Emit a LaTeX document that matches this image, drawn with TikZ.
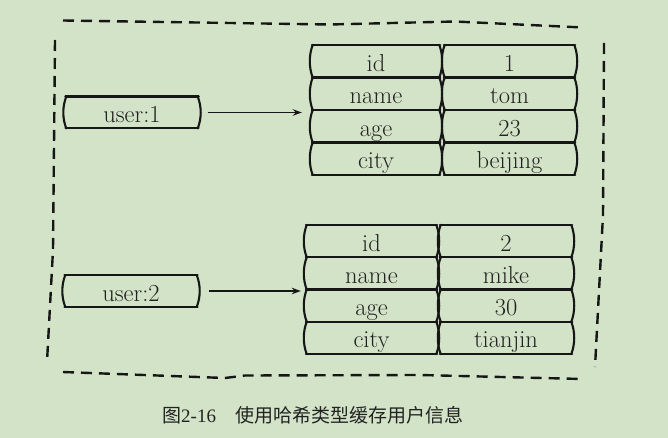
\documentclass[tikz,border=0pt]{standalone}
\usepackage{fontspec}
\newfontfamily\cjk{Noto Sans CJK SC}
\newfontfamily\capser{Liberation Serif}
\usetikzlibrary{arrows.meta}
\definecolor{bg}{RGB}{211,227,199}
\definecolor{ink}{RGB}{22,22,22}
\definecolor{txt}{RGB}{34,34,34}
\tikzset{
  cell/.style={inner sep=0pt, text height=20pt, text depth=0pt,
    font=\fontsize{24.5}{26}\selectfont, text=txt},
  kA/.style={cell, minimum width=128pt, minimum height=32.5pt},
  vA/.style={cell, minimum width=131pt, minimum height=32.5pt},
  kB/.style={cell, minimum width=131pt, minimum height=32.25pt},
  vB/.style={cell, minimum width=132pt, minimum height=32.25pt},
  ukey/.style={cell, minimum width=133pt, minimum height=31.5pt, text height=21pt},
  skline/.style={draw=ink, line width=2.1pt, line cap=round},
  border/.style={draw=ink, line width=2.4pt, dash pattern=on 11pt off 7pt},
  arr/.style={draw=ink, line width=1.8pt, -{Stealth[length=9pt,width=6.5pt]}},
}
\begin{document}
\begin{tikzpicture}[x=1pt,y=-1pt]
\fill[bg] (0,0) rectangle (668,438);
\useasboundingbox (0,0) rectangle (668,438);

% outer dashed frame
\draw[border] (63,20.5) -- (330,24.5) -- (455,21.5) -- (583,27.5);
\draw[border] (604,43) -- (603,215) -- (595,367);
\draw[border] (63,372) -- (225,378) -- (245,375.5) -- (420,375) -- (583,379);
\draw[border] (55,40) -- (53,250) -- (47,362);

% keys
\node[ukey] (u1) at (132,112.5) {user:1};
\node[ukey] (u2) at (131,291) {user:2};

% table 1
\node[kA] (k11) at (376,61.25) {id};
\node[kA] (k12) at (376,93.75) {name};
\node[kA] (k13) at (376,126.25) {age};
\node[kA] (k14) at (376,158.75) {city};
\node[vA] (v11) at (509.5,61.25) {1};
\node[vA] (v12) at (509.5,93.75) {tom};
\node[vA] (v13) at (509.5,126.25) {23};
\node[vA] (v14) at (509.5,158.75) {beijing};

% table 2
\node[kB] (k21) at (371.5,241.1) {id};
\node[kB] (k22) at (371.5,273.4) {name};
\node[kB] (k23) at (371.5,305.6) {age};
\node[kB] (k24) at (371.5,337.9) {city};
\node[vB] (v21) at (506,241.1) {2};
\node[vB] (v22) at (506,273.4) {mike};
\node[vB] (v23) at (506,305.6) {30};
\node[vB] (v24) at (506,337.9) {tianjin};

% sketchy outlines
\foreach \n in {u1,u2,k11,k12,k13,k14,v11,v12,v13,v14,k21,k22,k23,k24,v21,v22,v23,v24}{
  \draw[skline] (\n.north west) -- (\n.north east);
  \draw[skline] (\n.south west) -- (\n.south east);
  \draw[skline] ([xshift=1pt]\n.north west) .. controls +(-4,10) and +(-4,-10) .. ([xshift=1pt]\n.south west);
  \draw[skline] ([xshift=-1pt]\n.north east) .. controls +(4,10) and +(4,-10) .. ([xshift=-1pt]\n.south east);
}

% arrows
\draw[arr, shorten <=9pt, shorten >=10pt] (u1.east) -- (u1.east -| k12.west);
\draw[arr, shorten <=11pt, shorten >=5pt] (u2.east) -- (u2.east -| k22.west);

% caption
\node[anchor=base west, inner sep=0pt, text=txt] (cap) at (162,422)
  {\fontsize{19}{21}\selectfont\cjk 图{\capser 2-16}\hspace{19pt}使用哈希类型缓存用户信息};
\end{tikzpicture}
\end{document}
